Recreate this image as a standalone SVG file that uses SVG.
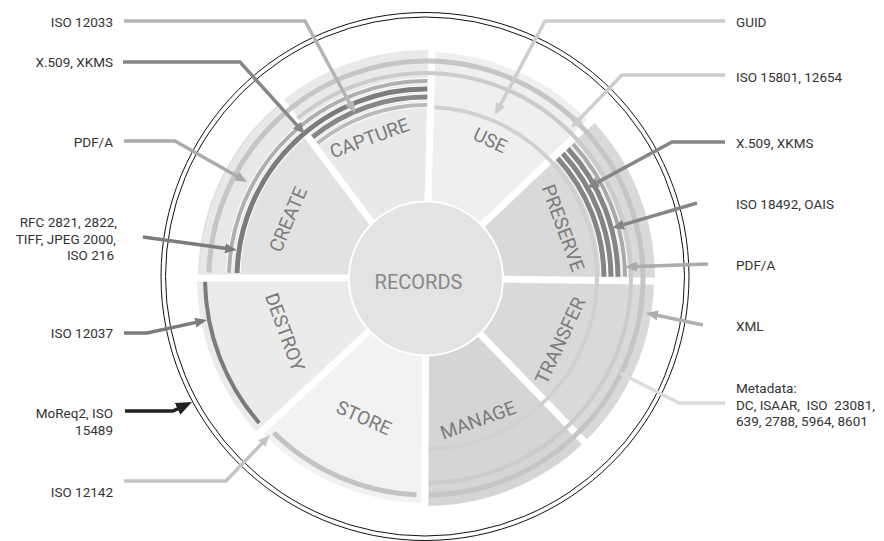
<svg xmlns="http://www.w3.org/2000/svg" width="884" height="541" viewBox="0 0 884 541">
<style>
 .lbl{font-family:Roboto,"Liberation Sans",sans-serif;font-size:13.5px;fill:#333}
 .seg{font-family:Roboto,"Liberation Sans",sans-serif;font-size:19px;fill:#7b7b7b;text-anchor:middle}
 .con{fill:none;stroke-width:3.5}
 .arc{fill:none}
 .halo{fill:none;stroke:#fff}
 .gap{stroke:#fff;stroke-width:7}
 .ring{fill:none;stroke:#111;stroke-width:1}
</style>
<defs>
 <marker id="ah-b4" viewBox="0 0 12 10" refX="7" refY="5" markerWidth="12" markerHeight="10" markerUnits="userSpaceOnUse" orient="auto"><path d="M0,0L12,5L0,10z" fill="#b4b4b4"/></marker>
 <marker id="ah-86" viewBox="0 0 12 10" refX="7" refY="5" markerWidth="12" markerHeight="10" markerUnits="userSpaceOnUse" orient="auto"><path d="M0,0L12,5L0,10z" fill="#868686"/></marker>
 <marker id="ah-ab" viewBox="0 0 12 10" refX="7" refY="5" markerWidth="12" markerHeight="10" markerUnits="userSpaceOnUse" orient="auto"><path d="M0,0L12,5L0,10z" fill="#ababab"/></marker>
 <marker id="ah-7c" viewBox="0 0 12 10" refX="7" refY="5" markerWidth="12" markerHeight="10" markerUnits="userSpaceOnUse" orient="auto"><path d="M0,0L12,5L0,10z" fill="#7c7c7c"/></marker>
 <marker id="ah-c4" viewBox="0 0 12 10" refX="7" refY="5" markerWidth="12" markerHeight="10" markerUnits="userSpaceOnUse" orient="auto"><path d="M0,0L12,5L0,10z" fill="#c4c4c4"/></marker>
 <marker id="ah-cd" viewBox="0 0 12 10" refX="7" refY="5" markerWidth="12" markerHeight="10" markerUnits="userSpaceOnUse" orient="auto"><path d="M0,0L12,5L0,10z" fill="#cdcdcd"/></marker>
 <marker id="ah-22" viewBox="0 0 16 13" refX="9" refY="6.5" markerWidth="16" markerHeight="13" markerUnits="userSpaceOnUse" orient="auto"><path d="M0,0L16,6.5L0,13z" fill="#222"/></marker>
</defs>
<rect width="884" height="541" fill="#fff"/>

<g id="scope-ring">
 <circle class="ring" cx="425" cy="276.5" r="264"/>
 <circle class="ring" cx="425" cy="276.5" r="259.5"/>
</g>

<g id="node-create">
 <path d="M413.5,278 L281.5,101.63 A228,228 0 0 0 198,278 Z" fill="#e2e2e3"/>
 <path d="M218.03,274.37 A208,208 0 0 1 290.64,120.07" fill="none" stroke="#e8e8e9" stroke-width="36"/>
 <text class="seg" transform="translate(287.9,219.4) rotate(-67)" dy="0.35em">CREATE</text>
</g>
<g id="node-capture">
 <path d="M426,278 L413.5,278 L281.5,101.63 A228,228 0 0 1 431.97,50.08 Z" fill="#e9e9ea"/>
 <text class="seg" transform="translate(369.4,138) rotate(-20)" dy="0.35em">CAPTURE</text>
</g>
<g id="node-use">
 <path d="M426,278 L431.92,52.08 A226,226 0 0 1 589.93,122.43 Z" fill="#efefef"/>
 <text class="seg" transform="translate(490.2,140.2) rotate(25)" dy="0.35em">USE</text>
</g>
<g id="node-preserve">
 <path d="M426,278 L592.11,120.37 A229,229 0 0 1 654.98,281.2 Z" fill="#d9d9da"/>
 <text class="seg" transform="translate(563.2,228.1) rotate(70)" dy="0.35em">PRESERVE</text>
</g>
<g id="node-transfer">
 <path d="M426,278 L653.98,281.18 A228,228 0 0 1 584.38,442.01 Z" fill="#d9d9da"/>
 <text class="seg" transform="translate(560.1,340.5) rotate(-65)" dy="0.35em">TRANSFER</text>
</g>
<g id="node-manage">
 <path d="M426,278 L584.38,442.01 A228,228 0 0 1 424.81,506 Z" fill="#d5d5d6"/>
 <text class="seg" transform="translate(478,420) rotate(-20)" dy="0.35em">MANAGE</text>
</g>
<g id="node-store">
 <path d="M426,278 L424.82,503 A225,225 0 0 1 261.45,431.45 Z" fill="#f2f2f2"/>
 <text class="seg" transform="translate(363.8,417.8) rotate(24)" dy="0.35em">STORE</text>
</g>
<g id="node-destroy">
 <path d="M426,278 L258.52,434.18 A229,229 0 0 1 197,278 Z" fill="#ebebeb"/>
 <text class="seg" transform="translate(285,332) rotate(70)" dy="0.35em">DESTROY</text>
</g>

<g id="sector-gaps">
 <line class="gap" x1="379.4" y1="232.5" x2="274.6" y2="92.4"/>
 <line class="gap" x1="427.83" y1="208.02" x2="432.15" y2="43.08"/>
 <line class="gap" x1="476.78" y1="229.82" x2="596.46" y2="116.24"/>
 <line class="gap" x1="495.99" y1="278.98" x2="660.98" y2="281.28"/>
 <line class="gap" x1="474.63" y1="328.35" x2="589.25" y2="447.04"/>
 <line class="gap" x1="425.63" y1="348" x2="424.77" y2="513"/>
 <line class="gap" x1="374.81" y1="325.74" x2="254.13" y2="438.27"/>
 <line class="gap" x1="356" y1="278" x2="191" y2="278"/>
</g>

<g id="standard-arcs">
 <path class="arc" d="M209.07,272.32 A217,217 0 1 1 429.03,494.98" stroke="#c5c5c5" stroke-width="5"/>
 <path class="arc" d="M297.55,118.24 A205,205 0 1 1 428.86,482.98" stroke="#cbcbcb" stroke-width="4"/>
 <path class="arc" d="M434.35,107.2 A171,171 0 0 1 428.39,448.98" stroke="#cfd0d2" stroke-width="4"/>
 <path class="halo" d="M229.07,272.84 A197,197 0 0 1 427.38,81" stroke-width="6"/>
 <path class="halo" d="M237.06,273.05 A189,189 0 0 1 427.32,89" stroke-width="7"/>
 <path class="halo" d="M312.59,136.94 A181,181 0 0 1 427.26,97" stroke-width="7"/>
 <path class="halo" d="M317.6,143.17 A173,173 0 0 1 427.21,105" stroke-width="6"/>
 <path class="arc" d="M229.07,272.84 A197,197 0 0 1 427.38,81" stroke="#afafaf" stroke-width="4"/>
 <path class="arc" d="M237.06,273.05 A189,189 0 0 1 427.32,89" stroke="#7c7c7c" stroke-width="5"/>
 <path class="arc" d="M312.59,136.94 A181,181 0 0 1 427.26,97" stroke="#878787" stroke-width="5"/>
 <path class="arc" d="M317.6,143.17 A173,173 0 0 1 427.21,105" stroke="#bababa" stroke-width="4"/>
 <path class="halo" d="M557.65,158.2 A178,178 0 0 1 603.99,276.76" stroke-width="7"/>
 <path class="halo" d="M562.83,153.49 A185,185 0 0 1 610.99,276.71" stroke-width="7"/>
 <path class="halo" d="M568.01,148.78 A192,192 0 0 1 617.99,276.66" stroke-width="7"/>
 <path class="halo" d="M573.19,144.07 A199,199 0 0 1 624.99,276.61" stroke-width="6"/>
 <path class="arc" d="M557.65,158.2 A178,178 0 0 1 603.99,276.76" stroke="#858585" stroke-width="5"/>
 <path class="arc" d="M562.83,153.49 A185,185 0 0 1 610.99,276.71" stroke="#858585" stroke-width="5"/>
 <path class="arc" d="M568.01,148.78 A192,192 0 0 1 617.99,276.66" stroke="#858585" stroke-width="5"/>
 <path class="arc" d="M573.19,144.07 A199,199 0 0 1 624.99,276.61" stroke="#a9a9a9" stroke-width="4"/>
 <path class="arc" d="M416.53,494.79 A217,217 0 0 1 273.9,432.78" stroke="#c3c3c3" stroke-width="5"/>
 <path class="arc" d="M259.21,422.99 A221,221 0 0 1 205.03,281.86" stroke="#7b7b7b" stroke-width="4"/>
</g>

<g id="node-records">
 <circle cx="426" cy="278.5" r="77" fill="#e3e3e4" stroke="#fff" stroke-width="2"/>
 <text x="418.5" y="289" font-family="Roboto, 'Liberation Sans', sans-serif" font-size="20" fill="#888" text-anchor="middle">RECORDS</text>
</g>

<g id="connectors">
 <polyline class="con" points="124,21 305,21 352.6,108.6" stroke="#b4b4b4" marker-end="url(#ah-b4)"/>
 <polyline class="con" points="123,62 240,62 301.6,130.3" stroke="#868686" marker-end="url(#ah-86)"/>
 <polyline class="con" points="124,141 175,141 242.7,179.5" stroke="#ababab" marker-end="url(#ah-ab)"/>
 <polyline class="con" points="143,237 232,249.3" stroke="#7c7c7c" marker-end="url(#ah-7c)"/>
 <polyline class="con" points="124,333 147,333 202.1,321.1" stroke="#7c7c7c" marker-end="url(#ah-7c)"/>
 <polyline class="con" points="125,411 173,411 185.7,405" stroke="#222" stroke-width="4" marker-end="url(#ah-22)"/>
 <polyline class="con" points="124,481 226,481 266.5,438.6" stroke="#c4c4c4" marker-end="url(#ah-c4)"/>
 <polyline class="con" points="725,21 545,21 497.3,110.6" stroke="#cdcdcd" marker-end="url(#ah-cd)"/>
 <polyline class="con" points="725,75 622,75 574.5,124.4" stroke="#cdcdcd" marker-end="url(#ah-cd)"/>
 <polyline class="con" points="725,142 672,142 591.4,185.6" stroke="#868686" marker-end="url(#ah-86)"/>
 <polyline class="con" points="697,203 616.8,226.6" stroke="#868686" marker-end="url(#ah-86)"/>
 <polyline class="con" points="708,264 630,266.8" stroke="#ababab" marker-end="url(#ah-ab)"/>
 <polyline class="con" points="703,325 650.9,314" stroke="#b0b0b0" marker-end="url(#ah-ab)"/>
 <polyline class="con" points="725,403 679,403 620,373" stroke="#dcdcdc"/>
</g>

<g id="std-iso12033"><text class="lbl" x="113" y="26.5" text-anchor="end">ISO 12033</text></g>
<g id="std-x509-left"><text class="lbl" x="113" y="67" text-anchor="end">X.509, XKMS</text></g>
<g id="std-pdfa-left"><text class="lbl" x="113" y="146.5" text-anchor="end">PDF/A</text></g>
<g id="std-rfc"><text class="lbl" text-anchor="end"><tspan x="117" y="227">RFC 2821, 2822,</tspan><tspan x="116" y="243.5">TIFF, JPEG 2000,</tspan><tspan x="114" y="260">ISO 216</tspan></text></g>
<g id="std-iso12037"><text class="lbl" x="113" y="338" text-anchor="end">ISO 12037</text></g>
<g id="std-moreq2"><text class="lbl" text-anchor="end"><tspan x="113" y="418">MoReq2, ISO</tspan><tspan x="113" y="434.5">15489</tspan></text></g>
<g id="std-iso12142"><text class="lbl" x="113" y="497" text-anchor="end">ISO 12142</text></g>
<g id="std-guid"><text class="lbl" x="736" y="27">GUID</text></g>
<g id="std-iso15801"><text class="lbl" x="736" y="82">ISO 15801, 12654</text></g>
<g id="std-x509-right"><text class="lbl" x="736" y="148">X.509, XKMS</text></g>
<g id="std-iso18492"><text class="lbl" x="736" y="208.5">ISO 18492, OAIS</text></g>
<g id="std-pdfa-right"><text class="lbl" x="736" y="269.5">PDF/A</text></g>
<g id="std-xml"><text class="lbl" x="736" y="331">XML</text></g>
<g id="std-metadata"><text class="lbl" style="white-space:pre"><tspan x="736" y="393">Metadata:</tspan><tspan x="736" y="409.5">DC, ISAAR,  ISO  23081,</tspan><tspan x="736" y="426">639, 2788, 5964, 8601</tspan></text></g>
</svg>
